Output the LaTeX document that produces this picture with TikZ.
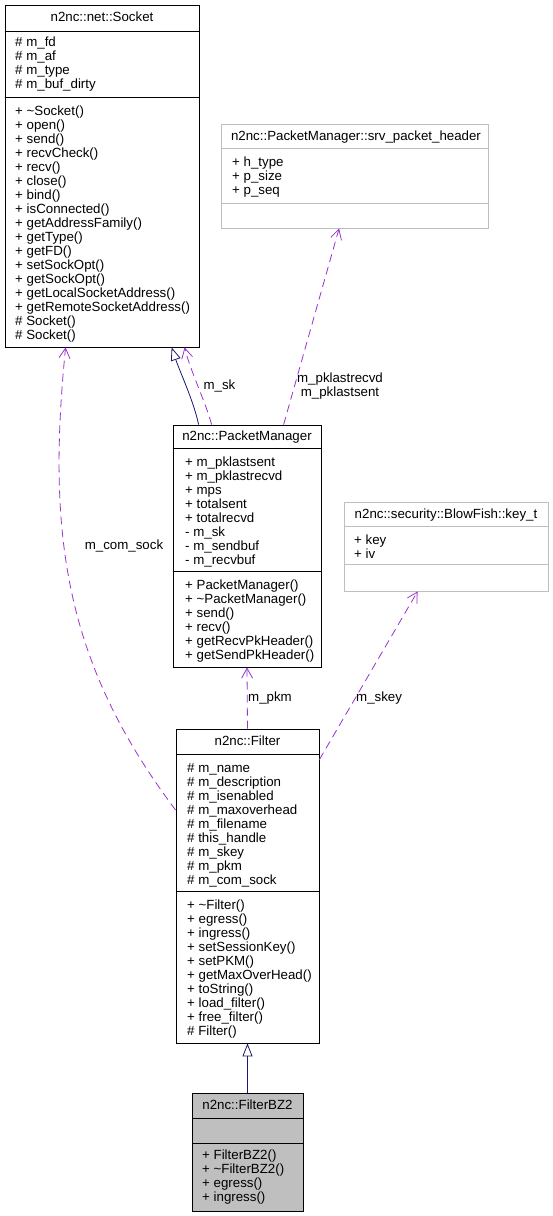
\documentclass[tikz,border=0pt]{standalone}
\usepackage{fontspec}
\setmainfont{Liberation Sans}
\usetikzlibrary{arrows.meta, positioning}
\definecolor{edgepurple}{RGB}{154,50,205}
\definecolor{edgenavy}{RGB}{25,25,112}
\definecolor{boxgray}{RGB}{191,191,191}

\begin{document}
\begin{tikzpicture}[x=1pt,y=-1pt,
    classbox/.style={rectangle,draw=black,line width=0.8pt,inner sep=0pt},
    graybox/.style={rectangle,draw=boxgray,line width=0.8pt,inner sep=0pt},
    classname/.style={font=\fontsize{13.3}{14}\selectfont,inner sep=0pt,text height=9.5pt,text depth=2.7pt},
    members/.style={font=\fontsize{13.3}{14}\selectfont,align=left,anchor=base west,inner sep=0pt},
    edgelabel/.style={font=\fontsize{13.3}{14}\selectfont,inner sep=0pt,text height=9.5pt,text depth=2.7pt},
    inherit/.style={edgenavy,line width=0.8pt,-{Triangle[open,length=13pt,width=10pt]}},
    assoc/.style={edgepurple,line width=0.8pt,dash pattern=on 8pt off 5pt,-{Straight Barb[length=10pt,width=11pt]}}]
    \useasboundingbox (0,0) rectangle (552,1216);

    % n2nc::net::Socket
    \node[classbox,minimum width=194pt,minimum height=342pt] (socket) at (102,176) {};
    \draw ([yshift=-26.5pt]socket.north west) -- ([yshift=-26.5pt]socket.north east);
    \draw ([yshift=-92.5pt]socket.north west) -- ([yshift=-92.5pt]socket.north east);
    \node[classname] (sockettitle) at (102,18) {n2nc::net::Socket};
    % members: base = Grundlinie der letzten Zeile
    \node[members] (socketattr) at (15,88.6) {\# m\_fd\\\# m\_af\\\# m\_type\\\# m\_buf\_dirty};
    \node[members] (socketops) at (15,339.4) {+ \textasciitilde Socket()\\+ open()\\+ send()\\+ recvCheck()\\+ recv()\\+ close()\\+ bind()\\+ isConnected()\\+ getAddressFamily()\\+ getType()\\+ getFD()\\+ setSockOpt()\\+ getSockOpt()\\+ getLocalSocketAddress()\\+ getRemoteSocketAddress()\\\# Socket()\\\# Socket()};

    % n2nc::PacketManager::srv_packet_header
    \node[graybox,minimum width=267pt,minimum height=104pt] (srv) at (354.5,176) {};
    \draw[boxgray] ([yshift=-25pt]srv.north west) -- ([yshift=-25pt]srv.north east);
    \draw[boxgray] ([yshift=-80pt]srv.north west) -- ([yshift=-80pt]srv.north east);
    \node[classname] (srvtitle) at (356,137) {n2nc::PacketManager::srv\_packet\_header};
    \node[members] (srvattr) at (232,194.8) {+ h\_type\\+ p\_size\\+ p\_seq};

    % n2nc::PacketManager
    \node[classbox,minimum width=148pt,minimum height=242pt] (pktmgr) at (247,546) {};
    \draw ([yshift=-24pt]pktmgr.north west) -- ([yshift=-24pt]pktmgr.north east);
    \draw ([yshift=-147pt]pktmgr.north west) -- ([yshift=-147pt]pktmgr.north east);
    \node[classname] (pktmgrtitle) at (247,437.5) {n2nc::PacketManager};
    \node[members] (pktmgrattr) at (185,564.6) {+ m\_pklastsent\\+ m\_pklastrecvd\\+ mps\\+ totalsent\\+ totalrecvd\\- m\_sk\\- m\_sendbuf\\- m\_recvbuf};
    \node[members] (pktmgrops) at (185,659.6) {+ PacketManager()\\+ \textasciitilde PacketManager()\\+ send()\\+ recv()\\+ getRecvPkHeader()\\+ getSendPkHeader()};

    % n2nc::security::BlowFish::key_t
    \node[graybox,minimum width=204pt,minimum height=89pt] (keyt) at (446,546.5) {};
    \draw[boxgray] ([yshift=-25pt]keyt.north west) -- ([yshift=-25pt]keyt.north east);
    \draw[boxgray] ([yshift=-63pt]keyt.north west) -- ([yshift=-63pt]keyt.north east);
    \node[classname] (keyttitle) at (446,515) {n2nc::security::BlowFish::key\_t};
    \node[members] (keytattr) at (354,558.3) {+ key\\+ iv};

    % n2nc::Filter
    \node[classbox,minimum width=143pt,minimum height=314pt] (filter) at (247.5,886) {};
    \draw ([yshift=-26pt]filter.north west) -- ([yshift=-26pt]filter.north east);
    \draw ([yshift=-163pt]filter.north west) -- ([yshift=-163pt]filter.north east);
    \node[classname] (filtertitle) at (247.5,742) {n2nc::Filter};
    \node[members] (filterattr) at (187,884.4) {\# m\_name\\\# m\_description\\\# m\_isenabled\\\# m\_maxoverhead\\\# m\_filename\\\# this\_handle\\\# m\_skey\\\# m\_pkm\\\# m\_com\_sock};
    \node[members] (filterops) at (187,1035.2) {+ \textasciitilde Filter()\\+ egress()\\+ ingress()\\+ setSessionKey()\\+ setPKM()\\+ getMaxOverHead()\\+ toString()\\+ load\_filter()\\+ free\_filter()\\\# Filter()};

    % n2nc::FilterBZ2
    \node[classbox,fill=boxgray,minimum width=111pt,minimum height=118pt] (filterbz2) at (247.5,1152) {};
    \draw ([yshift=-26pt]filterbz2.north west) -- ([yshift=-26pt]filterbz2.north east);
    \draw ([yshift=-51pt]filterbz2.north west) -- ([yshift=-51pt]filterbz2.north east);
    \node[classname] (filterbz2title) at (247.5,1106) {n2nc::FilterBZ2};
    \node[members] (filterbz2ops) at (202,1201.6) {+ FilterBZ2()\\+ \textasciitilde FilterBZ2()\\+ egress()\\+ ingress()};

    % Vererbung
    \draw[inherit] (filterbz2.north) -- (filter.south);
    \draw[inherit] ([xshift=26pt]pktmgr.north west) .. controls (194,402) and (180,372) .. ([xshift=167pt]socket.south west);

    % Assoziationen
    \draw[assoc] ([xshift=39pt]pktmgr.north west) .. controls (206,403) and (190,370) .. ([xshift=180pt]socket.south west);
    \draw[assoc] ([xshift=111pt]pktmgr.north west) -- ([xshift=118.5pt]srv.south west);
    \draw[assoc] (filter.north) -- (pktmgr.south);
    \draw[assoc] ([yshift=-31pt]filter.north east) -- ([xshift=74pt]keyt.south west);
    \draw[assoc] ([yshift=76pt]filter.west) .. controls (64,662) and (47,533) .. ([xshift=61pt]socket.south west);

    \node[edgelabel] (lblsk) at (219.5,386) {m\_sk};
    \node[members,anchor=base,align=center] (lblpk) at (340,396) {m\_pklastrecvd\\m\_pklastsent};
    \node[edgelabel,anchor=west] (lblpkm) at (248,698) {m\_pkm};
    \node[edgelabel,anchor=west] (lblskey) at (356,698) {m\_skey};
    \node[edgelabel] (lblsock) at (124,546) {m\_com\_sock};
\end{tikzpicture}
\end{document}
